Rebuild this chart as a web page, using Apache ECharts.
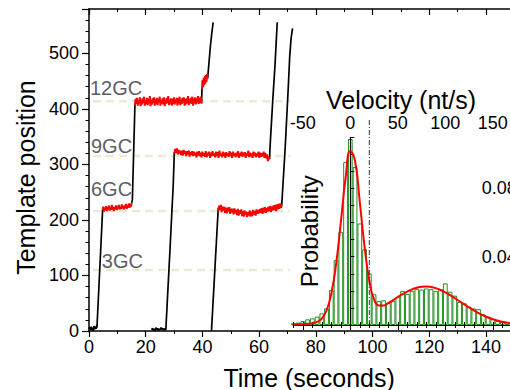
<!DOCTYPE html>
<html>
<head>
<meta charset="utf-8">
<script src="https://cdn.jsdelivr.net/npm/echarts@6/dist/echarts.min.js"></script>
<style>
html,body{margin:0;padding:0;background:#fff;overflow:hidden;}
#c{width:560px;height:390px;}
</style>
</head>
<body>
<div id="c"></div>
<script>
// ---------- DATA ----------
// Guide levels (template position) and their labels
const gcLevels = [110, 216, 315, 414];
const gcNames = ['3GC', '6GC', '9GC', '12GC'];
const gcSpan = [1.4, 71];
const gcLabelAnchors = [[4.5, 126], [0.7, 256], [0.7, 333], [0.35, 438]];

// Trace 1
const t1BlackA = [[0,3],[0.25,7],[0.5,1],[0.75,8],[1.0,2],[1.25,6],[1.5,0],[1.75,9],[2.0,3],[2.25,8],[2.5,4],[2.75,10],[2.8,6],[4.8,218]];
const t1PauseA = {t0: 4.8, dt: 0.25, v: [218,224,215,222,217,225,216,223,219,226,217,221,218,227,219,224,216,223,220,226,218,224,221,227,219,223,220,228,221,225,219,226,222,229,220,225,223,230,222,228,224,231]};
const t1BlackB = [[15.05,231],[15.3,236],[16.2,407]];
const t1PauseB = {t0: 16.2, dt: 0.25, v: [407,418,409,420,406,416,410,421,405,417,408,419,411,422,406,415,409,420,407,418,410,423,405,416,408,419,411,421,406,417,409,420,407,418,412,422,406,416,410,419,408,421,405,417,409,420,411,423,407,416,410,419,406,418,409,421,408,417,411,420,406,419,410,422,407,416,409,420,412,421,406,418,408,419,410,423,407,417,411,420,409,422,406,418,410,421,408,419,412,423,409,420,411,422,410]};
const t1BlackC = [[39.7,410],[39.85,436]];
const t1Blob = [[39.85,436],[40.05,452],[40.25,439],[40.45,456],[40.65,443],[40.85,459],[41.05,446],[41.25,461],[41.45,449],[41.65,463],[41.85,455]];
const t1BlackD = [[41.85,455],[42.4,488],[42.8,512],[43.3,536],[43.8,556]];

// Trace 2
const t2BlackA = [[22.1,2],[22.4,5],[22.7,1],[23.0,4],[23.3,0],[23.6,6],[23.9,2],[24.2,5],[24.5,1],[24.8,4],[25.1,2],[25.4,6],[25.7,3],[26.0,5],[26.3,1],[26.6,4],[26.9,3],[27.1,2],[28.6,150],[29.7,262],[30.1,322]];
const t2Pause = {t0: 30.1, dt: 0.3, v: [320,328,321,329,318,326,320,325,317,325,316,326,319,324,315,324,318,325,314,322,317,324,315,323,316,321,313,323,316,324,315,321,313,323,316,320,314,324,313,321,316,323,312,321,315,324,316,320,313,323,315,322,312,325,316,320,313,323,315,321,312,322,316,320,314,324,315,321,312,323,316,320,313,321,315,324,312,320,316,323,314,321,315,322,312,320,316,325,313,321,315,320,312,323,316,321,313,320,315,323,312,321,314,320,315,323,312,321,311,318,306,314,309]};
const t2BlackB = [[63.7,310],[63.8,326],[64.8,414],[65.6,478],[66.4,556]];

// Trace 3
const t3BlackA = [[43.2,0],[45.6,222]];
const t3Pause = {t0: 45.6, dt: 0.3, v: [215,226,218,227,214,224,217,224,213,222,212,222,215,223,211,220,214,220,210,221,212,218,209,220,208,217,211,219,207,216,206,217,209,215,205,214,208,217,206,215,207,218,210,216,208,219,211,218,212,220,213,221,211,222,214,223,213,221,215,224,216,225,214,224,217,226,218,227,216,228,219,229,220,230,222]};
const t3BlackB = [[67.8,222],[68.0,228],[69.2,330],[70.3,440],[70.8,495],[71.3,528],[71.8,545]];

// Inset histogram: velocity bin centres (nt/s) and probability
const binCenters = [-60,-55,-50,-45,-40,-35,-30,-25,-20,-15,-10,-5,0,5,10,15,20,25,30,35,40,45,50,55,60,65,70,75,80,85,90,95,100,105,110,115,120,125,130,135,140,145,150,155,160,165,170,175,180];
const binProb = [0.0010,0.0014,0.0023,0.0033,0.0039,0.0049,0.0068,0.0098,0.0205,0.0380,0.0546,0.0955,0.1090,0.0926,0.0595,0.0444,0.0302,0.0180,0.0140,0.0145,0.0130,0.0140,0.0165,0.0200,0.0182,0.0200,0.0212,0.0208,0.0214,0.0210,0.0200,0.0210,0.0244,0.0195,0.0172,0.0136,0.0127,0.0107,0.0097,0.0093,0.0062,0.0049,0.0035,0.0023,0.0019,0.0015,0.0010,0.0007,0.0005];
// Fit curve
const fitV = [-60,-55,-50,-45,-40,-35,-30,-25,-20,-15,-10,-5,0,5,10,15,20,25,30,35,40,45,50,55,60,65,70,75,80,85,90,95,100,105,110,115,120,125,130,135,140,145,150,155,160,165,170,175,180,185];
const fitP = [0.0003,0.0004,0.0005,0.0007,0.0010,0.0018,0.0038,0.0085,0.0185,0.0355,0.0600,0.0860,0.1020,0.0960,0.0720,0.0460,0.0260,0.0150,0.0115,0.0115,0.0128,0.0146,0.0164,0.0181,0.0196,0.0209,0.0218,0.0224,0.0226,0.0223,0.0216,0.0205,0.0191,0.0175,0.0157,0.0139,0.0121,0.0103,0.0086,0.0070,0.0056,0.0044,0.0034,0.0026,0.0019,0.0014,0.0010,0.0007,0.0005,0.0003];
const thresholdVelocity = 20;
const thresholdTop = 0.121;

const xTicks = [0,20,40,60,80,100,120,140];
const yTicks = [0,100,200,300,400,500];
const velTicks = [-50,0,50,100,150];
const probTicks = [0.04,0.08];

// ---------- BUILD ----------
const FONT = 'Liberation Sans, Arial, sans-serif';
function sample(p){ return p.v.map((v,i)=>[+(p.t0 + i*p.dt).toFixed(3), v]); }
function lineS(data, color, extra){
  return Object.assign({type:'line', xAxisIndex:0, yAxisIndex:0, data:data, showSymbol:false, symbol:'none',
    lineStyle:{color:color, width:1.7}, z:2, silent:true, animation:false}, extra||{});
}
const BLACK='#000', RED='#ff0000';
const series = [];
// guide lines
gcLevels.forEach(lv=>{
  series.push(lineS([[gcSpan[0],lv],[gcSpan[1],lv]], '#ebead2', {lineStyle:{color:'#ebead2', width:2.5, type:[8,5]}, z:1}));
});
// traces
[t1BlackA,t1BlackB,t1BlackC,t1BlackD,t2BlackA,t2BlackB,t3BlackA,t3BlackB].forEach(d=>series.push(lineS(d,BLACK)));
[sample(t1PauseA),sample(t1PauseB),t1Blob,sample(t2Pause),sample(t3Pause)].forEach(d=>series.push(lineS(d,RED,{z:3, lineStyle:{color:RED, width:2}})));
// GC labels
series.push({type:'scatter', xAxisIndex:0, yAxisIndex:0, symbolSize:0, z:3, silent:true,
  data: gcNames.map((n,i)=>({name:n, value:gcLabelAnchors[i]})),
  label:{show:true, position:'right', distance:0, formatter:'{b}', fontSize:20, color:'#30303a', fontFamily:FONT}});
// inset
series.push({type:'bar', xAxisIndex:2, yAxisIndex:1, data: binCenters.map((v,i)=>[v,binProb[i]]),
  barWidth:4.75, itemStyle:{color:'#ffffff', borderColor:'#1f8f1f', borderWidth:1}, z:4, silent:true, animation:false});
series.push({type:'line', xAxisIndex:2, yAxisIndex:1, data: fitV.map((v,i)=>[v,fitP[i]]), smooth:true, showSymbol:false, symbol:'none',
  lineStyle:{color:RED, width:2}, z:6, silent:true, animation:false});
series.push({type:'line', xAxisIndex:2, yAxisIndex:1, data:[[thresholdVelocity,0],[thresholdVelocity,thresholdTop]], clip:false, showSymbol:false, symbol:'none',
  lineStyle:{color:'#333', width:1, type:[5,2,1,2]}, z:6, silent:true, animation:false});

const axisLine = {show:true, lineStyle:{color:'#000', width:1.5}};
const lbl = {color:'#000', fontSize:18, fontFamily:FONT};
const W = 560, H = 390;
const mainL = 89, mainT = 9, mainB = 331, mainR = 514.25;
const insL = 293.3, insT = 137.3, insB = 325, insR = 530.8;

const option = {
  animation:false,
  backgroundColor:'#fff',
  grid:[
    {left:mainL, top:mainT, right:W-mainR, bottom:H-mainB, containLabel:false, outerBoundsMode:'none'},
    {left:insL, top:insT, right:W-insR, bottom:H-insB, show:true, backgroundColor:'#fff', borderWidth:0, z:3, containLabel:false, outerBoundsMode:'none'}
  ],
  xAxis:[
    {type:'value', gridIndex:0, position:'bottom', min:0, max:150, interval:20,
     axisLine:axisLine, axisTick:{show:true, inside:false, length:6, lineStyle:{color:'#000',width:1.2}},
     minorTick:{show:true, splitNumber:2, length:3, lineStyle:{color:'#000',width:1}},
     axisLabel:Object.assign({margin:7, customValues:xTicks}, lbl), splitLine:{show:false},
     name:'Time (seconds)', nameLocation:'middle', nameGap:34,
     nameTextStyle:{fontSize:25, color:'#000', fontFamily:FONT, padding:[0,0,0,15]}},
    {type:'value', gridIndex:0, position:'top', min:0, max:150, interval:20,
     axisLine:axisLine, axisTick:{show:true, inside:true, length:6, lineStyle:{color:'#000',width:1.2}},
     minorTick:{show:true, splitNumber:2, length:3, lineStyle:{color:'#000',width:1}},
     axisLabel:{show:false}, splitLine:{show:false}},
    {type:'value', gridIndex:1, position:'top', min:-60, max:190, z:5,
     axisLine:{show:true, lineStyle:{color:'#000', width:1.2}},
     axisTick:{show:true, inside:true, length:5, customValues:velTicks, lineStyle:{color:'#000'}},
     axisLabel:Object.assign({margin:5, customValues:velTicks}, lbl), splitLine:{show:false},
     name:'Velocity (nt/s)', nameLocation:'middle', nameGap:25,
     nameTextStyle:{fontSize:25, color:'#000', fontFamily:FONT, padding:[0,22,0,0]}},
    {type:'value', gridIndex:1, position:'top', min:-60, max:190, interval:10, z:5,
     axisLine:{show:false}, axisTick:{show:true, inside:true, length:3, lineStyle:{color:'#000'}},
     axisLabel:{show:false}, splitLine:{show:false}},
    {type:'value', gridIndex:1, position:'bottom', min:-60, max:190, interval:10, z:5,
     axisLine:{show:true, lineStyle:{color:'#000', width:1.2}}, axisTick:{show:true, inside:true, length:3, lineStyle:{color:'#000'}},
     axisLabel:{show:false}, splitLine:{show:false}}
  ],
  yAxis:[
    {type:'value', gridIndex:0, position:'left', min:0, max:580, interval:100,
     axisLine:axisLine, axisTick:{show:true, inside:false, length:7, lineStyle:{color:'#000',width:1.2}},
     minorTick:{show:true, splitNumber:5, length:3.5, lineStyle:{color:'#000',width:1}},
     axisLabel:Object.assign({margin:10, customValues:yTicks}, lbl), splitLine:{show:false},
     name:'Template position', nameLocation:'middle', nameGap:47,
     nameTextStyle:{fontSize:25, color:'#000', fontFamily:FONT, padding:[0,15,0,0]}},
    {type:'value', gridIndex:1, position:'left', min:0, max:0.11, interval:0.01, z:5,
     axisLine:{show:true, lineStyle:{color:'#000', width:1.2}}, axisTick:{show:true, inside:true, length:4, lineStyle:{color:'#000'}},
     axisLabel:{show:false}, splitLine:{show:false},
     name:'Probability', nameLocation:'middle', nameGap:-28,
     nameTextStyle:{fontSize:24, color:'#000', fontFamily:FONT}},
    {type:'value', gridIndex:1, position:'right', min:0, max:0.11, z:5,
     axisLine:{show:false}, axisTick:{show:false},
     axisLabel:Object.assign({inside:true, margin:14, customValues:probTicks, formatter:v=>v.toFixed(2)}, lbl),
     splitLine:{show:false}}
  ],
  series: series
};
const chart = echarts.init(document.getElementById('c'), null, {renderer:'svg', width:W, height:H});
chart.setOption(option);
</script>
</body>
</html>
